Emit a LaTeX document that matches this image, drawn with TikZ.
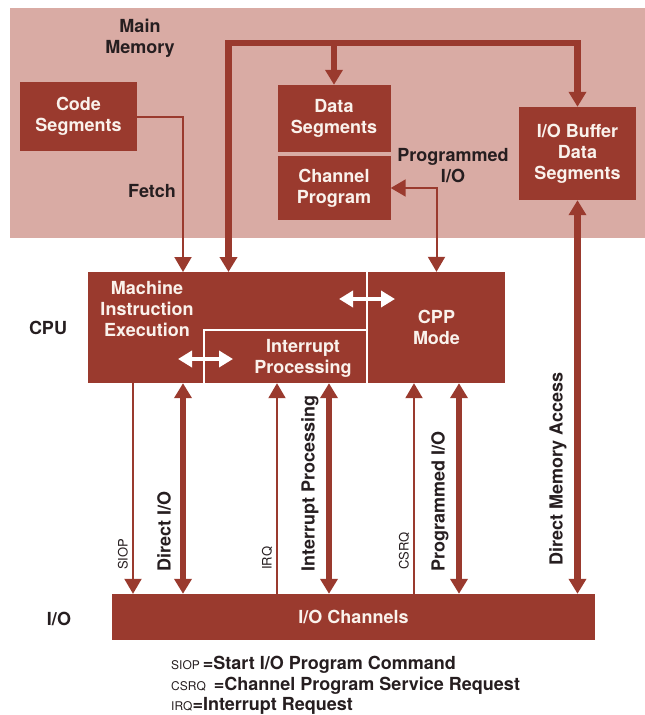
\documentclass[tikz,border=0pt]{standalone}
\usepackage{fontspec}
\setmainfont{TeX Gyre Heros}
\usetikzlibrary{arrows.meta}
\definecolor{memcol}{RGB}{217,171,164}
\definecolor{boxcol}{RGB}{154,58,46}
\definecolor{inkcol}{RGB}{38,30,32}
\definecolor{boxtxt}{RGB}{250,242,236}
\newcommand\keyfont{\fontsize{12}{14}\selectfont\mdseries}

\begin{document}
\begin{tikzpicture}
[x=1pt,y=-1pt,>={Triangle[width=17pt,length=15pt]},
every node/.style={font=\fontsize{18}{21}\selectfont\bfseries,align=center,inner sep=0pt,text=inkcol},
box/.style={rectangle,fill=boxcol,text=boxtxt},
bus/.style={draw=boxcol,line width=6.5pt},
wire/.style={draw=boxcol,line width=2pt},
sep/.style={draw=white,line width=2pt},
swap/.style={draw=white,line width=4.5pt,{Triangle[width=16pt,length=14pt]}-{Triangle[width=16pt,length=14pt]}},
vlabel/.style={rotate=90,anchor=west},
slabel/.style={rotate=90,anchor=west,font=\fontsize{13}{15}\selectfont\mdseries}]
\useasboundingbox (0,0) rectangle (645,715);
\fill[memcol] (10,8) rectangle (645,238);
\node (mem) at (140,38.5) {Main\\Memory};
\node[box,minimum width=117pt,minimum height=69pt] (code) at (78.5,116.5) {Code\\Segments};
\node[box,minimum width=113pt,minimum height=67pt] (data) at (334,118.5) {Data\\Segments};
\node[box,minimum width=113pt,minimum height=64pt] (chan) at (334,188) {Channel\\Program};
\node[box,minimum width=117pt,minimum height=93pt] (iobuf) at (577.5,153.5) {I/O Buffer\\Data\\Segments};
\node (fetch) at (152,191) {Fetch};
\node (pio) at (453,166) {Programmed\\I/O};
% CPU
\node[box,minimum width=278pt,minimum height=111pt] (mach) at (227,327.5) {};
\node[text=boxtxt] (machtxt) at (147,309) {Machine\\Instruction\\Execution};
\node[box,minimum width=137pt,minimum height=111pt] (cpp) at (436.5,327.5) {CPP\\Mode};
\node[box,minimum width=162pt,minimum height=53pt] (intr) at (285,356.5) {};
\draw[sep] (intr.south west) |- (intr.north east);
\node[text=boxtxt] (intrtxt) at (303,358) {Interrupt\\Processing};
\draw[swap] (339,299) -- (395,299);
\draw[swap] (178,359) -- (233,359);
\node (cpu) at (48,328) {CPU};
% I/O
\node[box,minimum width=483pt,minimum height=46pt] (iochan) at (353.5,617) {I/O Channels};
\node (io) at (59,619) {I/O};
% memory paths
\coordinate (fetchin) at (183,272);
\coordinate (busin) at (228.5,272);
\coordinate (bustop) at (228.5,43);
\draw[wire,->] (code.east) -| (fetchin);
\draw[bus,<->] (busin) -- (bustop) -| (iobuf.north);
\draw[bus,->] (data.north |- bustop) -- (data.north);
\draw[wire,<->] (chan.east) -| (cpp.north);
\draw[bus,<->] (iobuf.south) -- (iobuf.south |- iochan.north);
\node[vlabel] (dma) at (558,566) {Direct Memory Access};
% CPU to channels
\foreach \x/\t in {183/{Direct I/O},329/{Interrupt Processing},459/{Programmed I/O}}
{
\draw[bus,<->] (mach.south -| \x,0) -- (iochan.north -| \x,0);
\node[vlabel] (lab\x) at (\x-19,572) {\t};
}
\foreach \x/\t/\dir in {133/SIOP/->,277/IRQ/<-,414/CSRQ/<-}
{
\draw[wire,\dir] (mach.south -| \x,0) -- (iochan.north -| \x,0);
\node[slabel] (lab\x) at (\x-10,570) {\t};
}
% key
\node[anchor=west] (key1) at (171,665) {{\keyfont SIOP}\,=Start I/O Program Command};
\node[anchor=west] (key2) at (171,686) {{\keyfont CSRQ}\ \,=Channel Program Service Request};
\node[anchor=west] (key3) at (171,706) {{\keyfont IRQ}=Interrupt Request};
\end{tikzpicture}
\end{document}
